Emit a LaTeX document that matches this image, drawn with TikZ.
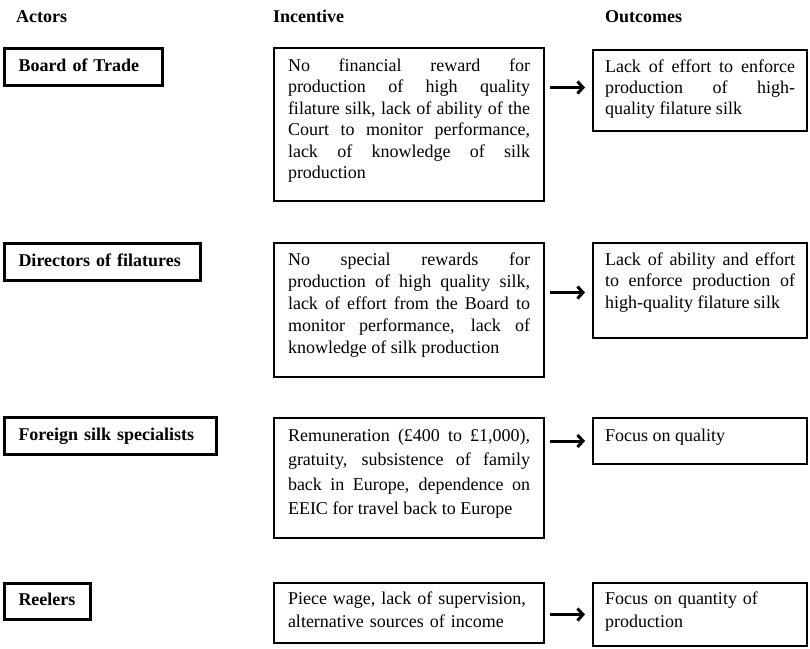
\documentclass[tikz,border=0pt]{standalone}
\usepackage{fontspec}
\setmainfont{Liberation Serif}
\usetikzlibrary{arrows.meta}
\hyphenpenalty=10000
\tolerance=10000
\newcommand\hdrfont{\fontsize{18}{20}\selectfont\bfseries}
\newcommand\bodyfont[1]{\fontsize{18}{#1}\selectfont}
\begin{document}
\begin{tikzpicture}[x=1pt,y=-1pt,
  every node/.style={inner sep=0pt},
  hdr/.style={anchor=base west,font=\hdrfont},
  actor/.style={draw,line width=3pt,anchor=north west,inner xsep=14pt,inner ysep=0pt,
    align=left,font=\hdrfont,minimum height=37pt,text height=12.5pt,text depth=4pt},
  ibox/.style={draw,line width=2pt,anchor=north west,inner xsep=14pt,inner ysep=0pt,
    align=justify,text width=242pt,text height=22pt},
  obox/.style={ibox,inner xsep=12pt,text width=190pt},
  arr/.style={line width=3pt,-{Straight Barb[length=5.5pt,width=12pt]},
    shorten <=5pt,shorten >=7pt}
]
\useasboundingbox (0,0) rectangle (810,648);

% headers
\node[hdr] (h1) at (16,22) {Actors};
\node[hdr] (h2) at (273,22) {Incentive};
\node[hdr] (h3) at (605,22) {Outcomes};

% row 1
\node[actor,text width=130pt] (a1) at (3,47) {Board of Trade};
\node[ibox,font=\bodyfont{21.5},text height=23pt,text depth=130pt] (i1) at (273,47)
  {No financial reward for\linebreak production of high quality\linebreak
   filature silk, lack of ability of the\linebreak Court to monitor performance,\linebreak
   lack of knowledge of silk\linebreak production};
\node[obox,font=\bodyfont{21},text depth=59pt] (o1) at (592,49)
  {Lack of effort to enforce\linebreak production of high-\linebreak quality filature silk};

% row 2
\node[actor,text width=168pt] (a2) at (3,242) {Directors of filatures};
\node[ibox,font=\bodyfont{22},text depth=112pt] (i2) at (273,242)
  {No special rewards for\linebreak production of high quality silk,\linebreak
   lack of effort from the Board to\linebreak monitor performance, lack of\linebreak
   knowledge of silk production};
\node[obox,font=\bodyfont{21.5},text depth=73pt] (o2) at (592,242)
  {Lack of ability and effort\linebreak to enforce production of\linebreak high-quality filature silk};

% row 3
\node[actor,text width=184pt] (a3) at (3,416) {Foreign silk specialists};
\node[ibox,font=\bodyfont{24.5},text height=23pt,text depth=97pt] (i3) at (273,417)
  {Remuneration (£400 to £1,000),\linebreak gratuity, subsistence of family\linebreak
   back in Europe, dependence on\linebreak EEIC for travel back to Europe};
\node[obox,font=\bodyfont{24.5},text height=23pt,text depth=23pt] (o3) at (592,417)
  {Focus on quality};

% row 4
\node[actor,text width=58pt,minimum height=36pt] (a4) at (3,582) {Reelers};
\node[ibox,align=left,font=\bodyfont{23},text height=21pt,text depth=39pt] (i4) at (273,582)
  {Piece wage, lack of supervision,\\ alternative sources of income};
\node[obox,align=left,font=\bodyfont{23},text height=21pt,text depth=42pt] (o4) at (592,582)
  {Focus on quantity of\\ production};

% arrows
\coordinate (c1) at ([yshift=3pt]o1.west);
\coordinate (c2) at ([yshift=-2pt]o2.west);
\draw[arr] (c1 -| i1.east) -- (c1);
\draw[arr] (c2 -| i2.east) -- (c2);
\draw[arr] (o3.west -| i3.east) -- (o3.west);
\draw[arr] (o4.west -| i4.east) -- (o4.west);
\end{tikzpicture}
\end{document}
